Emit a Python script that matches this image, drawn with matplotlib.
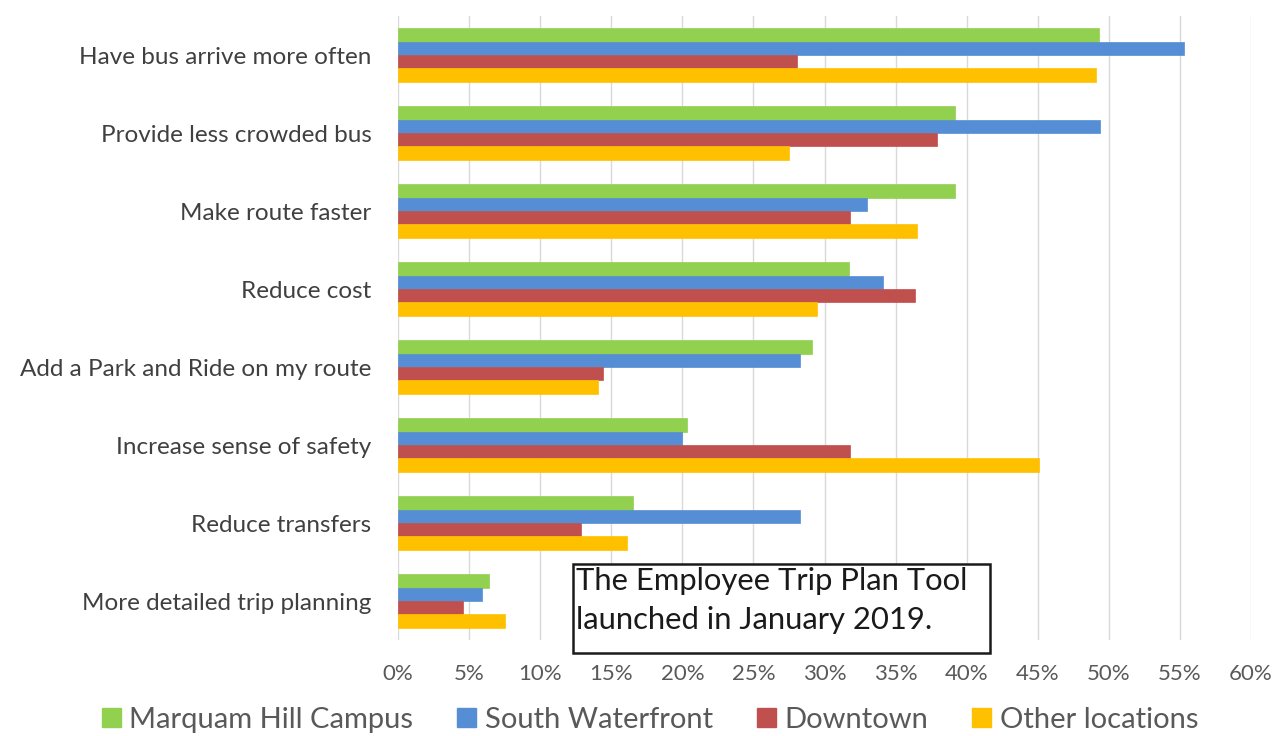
import matplotlib.pyplot as plt
from matplotlib.patches import Rectangle
import numpy as np

categories = [
    "Have bus arrive more often",
    "Provide less crowded bus",
    "Make route faster",
    "Reduce cost",
    "Add a Park and Ride on my route",
    "Increase sense of safety",
    "Reduce transfers",
    "More detailed trip planning",
]
series_names = ["Marquam Hill Campus", "South Waterfront", "Downtown", "Other locations"]
marquam = [49.3, 39.2, 39.2, 31.7, 29.1, 20.3, 16.5, 6.4]
waterfront = [55.3, 49.4, 33.0, 34.1, 28.3, 20.0, 28.3, 5.9]
downtown = [28.1, 37.9, 31.8, 36.4, 14.4, 31.8, 12.9, 4.6]
other = [49.1, 27.5, 36.5, 29.5, 14.1, 45.1, 16.1, 7.5]
colors = ["#92D050", "#558ED5", "#C0504D", "#FFC000"]
xticks = list(range(0, 61, 5))

plt.rcParams['font.family'] = ['Lato', 'DejaVu Sans']

W, H = 1280, 736
fig = plt.figure(figsize=(W / 100, H / 100), dpi=100)
ax = fig.add_axes([398 / W, 1 - 640 / H, (1251 - 398) / W, (640 - 16) / H])

n = len(categories)
y = np.arange(n)
bar_h = 0.173
values = [marquam, waterfront, downtown, other]
for i, (vals, col, name) in enumerate(zip(values, colors, series_names)):
    offs = (i - 1.5) * bar_h
    ax.barh(y + offs, vals, height=bar_h, color=col, label=name,
            edgecolor=col, linewidth=0.5, zorder=3)

ax.set_ylim(n - 0.5, -0.5)
ax.set_xlim(0, 60)
ax.set_xticks(xticks)
ax.set_xticklabels([f"{t}%" for t in xticks], fontsize=16, color="#595959")
ax.set_yticks(y)
ax.set_yticklabels(categories, fontsize=17.5, color="#404040")
ax.tick_params(axis='both', length=0)
ax.tick_params(axis='x', pad=17)
ax.tick_params(axis='y', pad=19)
ax.grid(axis='x', color="#D9D9D9", linewidth=1, zorder=0)
for s in ax.spines.values():
    s.set_visible(False)

# annotation box
fig.patches.append(Rectangle((573 / W, 1 - 653 / H), (990 - 573) / W, (653 - 564) / H,
                             transform=fig.transFigure, facecolor='white',
                             edgecolor='#1A1A1A', linewidth=1.8, zorder=5))
fig.text(576 / W, 1 - 581 / H, "The Employee Trip Plan Tool", fontsize=22.3,
         color="#1A1A1A", va='center', ha='left', zorder=6)
fig.text(576 / W, 1 - 620 / H, "launched in January 2019.", fontsize=22.3,
         color="#1A1A1A", va='center', ha='left', zorder=6)

handles = [plt.Rectangle((0, 0), 1, 1, color=c) for c in colors]
fig.legend(handles, series_names, loc='center', bbox_to_anchor=(650 / W, 1 - 720 / H),
           ncol=4, frameon=False, fontsize=21, handlelength=0.65, handleheight=0.65,
           handletextpad=0.3, columnspacing=1.5, labelcolor="#595959")

fig.savefig("out.png", dpi=100)
